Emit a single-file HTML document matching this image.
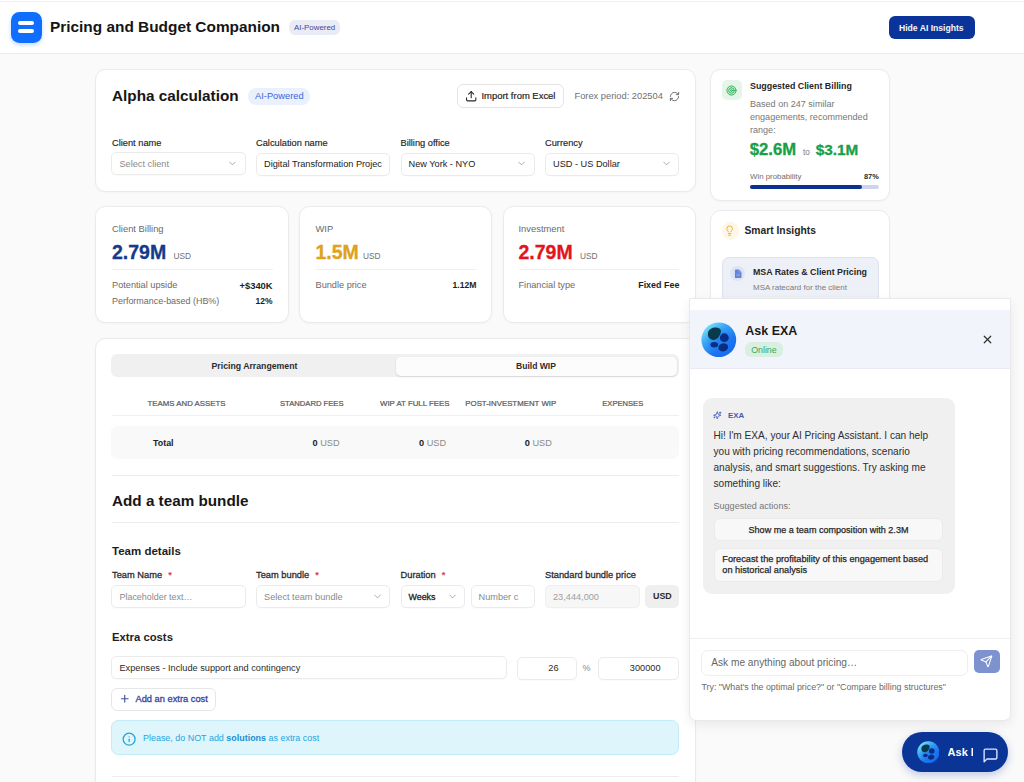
<!DOCTYPE html>
<html lang="en">
<head>
<meta charset="utf-8">
<title>Pricing and Budget Companion</title>
<style>
*{box-sizing:border-box;margin:0;padding:0}
html,body{width:1024px;height:782px;overflow:hidden}
body{background:#fafafa;font-family:"Liberation Sans",Arial,sans-serif;color:#1c1c1c;position:relative}
.a{position:absolute;white-space:nowrap}
.b{font-weight:700}
.card{position:absolute;background:#fff;border:1px solid #eaeaea;border-radius:10.5px;box-shadow:0 1px 2px rgba(0,0,0,.03)}
.hdr{position:absolute;left:0;top:0;width:1024px;height:54px;background:#fff;border-bottom:1px solid #ececec}
.topline{position:absolute;left:0;top:.5px;width:1024px;height:1.2px;background:#f1efec}
.logo{position:absolute;left:11px;top:12px;width:31px;height:30.5px;border-radius:8.5px;background:#0f6efe;box-shadow:0 2px 4px rgba(11,108,255,.25)}
.logo i{position:absolute;left:7px;width:16px;height:4px;border-radius:2px;background:#fff}
.pill{position:absolute;border-radius:6px}
.lbl{position:absolute;font-size:9.3px;color:#2a2a2a;font-weight:400;white-space:nowrap;-webkit-text-stroke:.28px #2a2a2a}
.inp{position:absolute;background:#fff;border:1px solid #ebebeb;border-radius:5px;height:23px;box-shadow:0 1px 1px rgba(0,0,0,.02)}
.inp span{position:absolute;left:7px;top:5.4px;font-size:9.2px;white-space:nowrap}
.ph{color:#8a8a8a}
.inp span.r2{top:6.1px}
.gray{color:#6e6e6e}
.th{position:absolute;top:398.6px;font-size:7.85px;font-weight:400;color:#5a5a5a;white-space:nowrap;-webkit-text-stroke:.22px #5a5a5a}
.big{font-size:19.5px;line-height:22px;-webkit-text-stroke:.3px currentColor}
.ast{color:#e5283c;margin-left:6px;-webkit-text-stroke:.2px #e5283c}
</style>
</head>
<body>
<!-- HEADER -->
<div class="hdr"></div>
<div class="topline"></div>
<div class="logo"><i style="top:9.2px"></i><i style="top:17px"></i></div>
<div class="a b" style="left:50px;top:18.4px;font-size:15.4px;line-height:18px;color:#151515">Pricing and Budget Companion</div>
<div class="pill" style="left:289px;top:20px;width:51px;height:14.5px;background:#e9ebf7"></div>
<div class="a" style="left:294px;top:22.5px;font-size:7.9px;line-height:10px;color:#3d4a96">AI-Powered</div>
<div class="pill" style="left:889px;top:16px;width:85.5px;height:22.5px;background:#0b349b;border-radius:6px"></div>
<div class="a b" style="left:899px;top:22.9px;font-size:8.6px;line-height:11px;color:#f4f6fd">Hide AI Insights</div>

<!-- MAIN CARD 1 -->
<div class="card" style="left:95px;top:69px;width:601px;height:122.5px"></div>
<div class="a b" style="left:112px;top:87px;font-size:15.3px;line-height:18px;color:#161616">Alpha calculation</div>
<div class="pill" style="left:248px;top:87.5px;width:62px;height:17px;background:#eaf1fd;border-radius:8px"></div>
<div class="a" style="left:255px;top:91px;font-size:9.3px;line-height:11px;color:#3568d4">AI-Powered</div>

<div class="pill" style="left:457px;top:84.3px;width:106.5px;height:23.5px;background:#fff;border:1px solid #e4e4e4;border-radius:6px"></div>
<svg class="a" style="left:465.1px;top:90.3px" width="12.4" height="12.4" viewBox="0 0 24 24" fill="none" stroke="#2a2a2a" stroke-width="2.1" stroke-linecap="round" stroke-linejoin="round"><path d="M21 15v4a2 2 0 0 1-2 2H5a2 2 0 0 1-2-2v-4"/><path d="M17 8l-5-5-5 5"/><path d="M12 3v12"/></svg>
<div class="a" style="left:481.5px;top:89.6px;font-size:9.45px;line-height:11px;color:#222;font-weight:400;-webkit-text-stroke:.18px #222">Import from Excel</div>
<div class="a" style="left:574.5px;top:90.5px;font-size:9.3px;line-height:11px;color:#707070">Forex period: 202504</div>
<svg class="a" style="left:668.6px;top:90.6px" width="11" height="11" viewBox="0 0 24 24" fill="none" stroke="#6a6a6a" stroke-width="2.1" stroke-linecap="round" stroke-linejoin="round"><path d="M3 12a9 9 0 0 1 9-9 9.75 9.75 0 0 1 6.74 2.74L21 8"/><path d="M21 3v5h-5"/><path d="M21 12a9 9 0 0 1-9 9 9.75 9.75 0 0 1-6.74-2.74L3 16"/><path d="M8 16H3v5"/></svg>

<div class="lbl" style="left:112px;top:138px;font-weight:400;font-size:9.28px;color:#222;-webkit-text-stroke:.15px #222">Client name</div>
<div class="lbl" style="left:256px;top:138px;font-weight:400;font-size:9.28px;color:#222;-webkit-text-stroke:.15px #222">Calculation name</div>
<div class="lbl" style="left:400.5px;top:138px;font-weight:400;font-size:9.28px;color:#222;-webkit-text-stroke:.15px #222">Billing office</div>
<div class="lbl" style="left:545px;top:138px;font-weight:400;font-size:9.28px;color:#222;-webkit-text-stroke:.15px #222">Currency</div>

<div class="inp" style="left:111.2px;top:152.2px;width:134.8px"><span class="ph" style="left:7.3px">Select client</span></div>
<div class="inp" style="left:256px;top:152.5px;width:134px"><span style="color:#222">Digital Transformation Projec</span></div>
<div class="inp" style="left:400.5px;top:152.5px;width:134px"><span style="color:#222">New York - NYO</span></div>
<div class="inp" style="left:545px;top:152.5px;width:134px"><span style="color:#222">USD - US Dollar</span></div>
<svg class="a" style="left:226.65px;top:157.8px" width="11" height="11" viewBox="0 0 24 24" fill="none" stroke="#9a9a9a" stroke-width="1.8" stroke-linecap="round" stroke-linejoin="round"><path d="m6 9 6 6 6-6"/></svg>
<svg class="a" style="left:515.65px;top:157.8px" width="11" height="11" viewBox="0 0 24 24" fill="none" stroke="#9a9a9a" stroke-width="1.8" stroke-linecap="round" stroke-linejoin="round"><path d="m6 9 6 6 6-6"/></svg>
<svg class="a" style="left:660.65px;top:157.8px" width="11" height="11" viewBox="0 0 24 24" fill="none" stroke="#9a9a9a" stroke-width="1.8" stroke-linecap="round" stroke-linejoin="round"><path d="m6 9 6 6 6-6"/></svg>

<!-- STAT CARDS -->
<div class="card" style="left:95px;top:206.3px;width:193.8px;height:117px"></div>
<div class="card" style="left:299px;top:206.3px;width:193px;height:117px"></div>
<div class="card" style="left:502.5px;top:206.3px;width:193px;height:117px"></div>

<div class="a" style="left:112px;top:222.7px;font-size:9.4px;line-height:11px;color:#6a6a6a">Client Billing</div>
<div class="a b big" style="left:112px;top:240.5px;color:#143a8c">2.79M</div>
<div class="a" style="left:173.5px;top:250.8px;font-size:8.3px;line-height:10px;color:#707070">USD</div>
<div class="a" style="left:112px;top:268.5px;width:161px;height:1px;background:#efefef"></div>
<div class="a" style="left:112px;top:280px;font-size:9.2px;line-height:11px;color:#6a6a6a">Potential upside</div>
<div class="a b" style="right:751.4px;top:280px;font-size:9.4px;line-height:11px;color:#1e1e1e">+$340K</div>
<div class="a" style="left:112px;top:295.5px;font-size:8.95px;line-height:11px;color:#6a6a6a">Performance-based (HB%)</div>
<div class="a b" style="right:751.4px;top:295.5px;font-size:8.5px;line-height:11px;color:#1e1e1e">12%</div>

<div class="a" style="left:315.5px;top:222.7px;font-size:9.4px;line-height:11px;color:#6a6a6a">WIP</div>
<div class="a b big" style="left:315.5px;top:240.5px;color:#e0a21b">1.5M</div>
<div class="a" style="left:363px;top:250.8px;font-size:8.3px;line-height:10px;color:#707070">USD</div>
<div class="a" style="left:315.5px;top:268.5px;width:160.5px;height:1px;background:#efefef"></div>
<div class="a" style="left:315.5px;top:280px;font-size:9.2px;line-height:11px;color:#6a6a6a">Bundle price</div>
<div class="a b" style="right:547.6px;top:280px;font-size:8.6px;line-height:11px;color:#1e1e1e">1.12M</div>

<div class="a" style="left:518.5px;top:222.7px;font-size:9.4px;line-height:11px;color:#6a6a6a">Investment</div>
<div class="a b big" style="left:518.5px;top:240.5px;color:#e3141c">2.79M</div>
<div class="a" style="left:580px;top:250.8px;font-size:8.3px;line-height:10px;color:#707070">USD</div>
<div class="a" style="left:518.5px;top:268.5px;width:160.5px;height:1px;background:#efefef"></div>
<div class="a" style="left:518.5px;top:280px;font-size:9.2px;line-height:11px;color:#6a6a6a">Financial type</div>
<div class="a b" style="right:344.6px;top:280px;font-size:8.95px;line-height:11px;color:#1e1e1e">Fixed Fee</div>

<!-- BIG CARD -->
<div class="card" style="left:95px;top:338px;width:601px;height:460px"></div>
<div class="pill" style="left:111.2px;top:354px;width:567.8px;height:23px;background:#f0f0f0;border-radius:6px"></div>
<div class="pill" style="left:395.5px;top:356.5px;width:281.5px;height:19px;background:#fcfcfc;border-radius:5px;box-shadow:0 1px 2px rgba(0,0,0,.12)"></div>
<div class="a b" style="left:211.5px;top:361px;font-size:8.73px;line-height:10px;color:#2c2c2c">Pricing Arrangement</div>
<div class="a b" style="left:516px;top:361px;font-size:8.57px;line-height:10px;color:#2c2c2c">Build WIP</div>

<div class="th" style="left:147.5px">TEAMS AND ASSETS</div>
<div class="th" style="left:280px;font-size:7.65px">STANDARD FEES</div>
<div class="th" style="left:380px">WIP AT FULL FEES</div>
<div class="th" style="left:465.3px">POST-INVESTMENT WIP</div>
<div class="th" style="left:602.3px;font-size:7.6px">EXPENSES</div>
<div class="a" style="left:112px;top:415px;width:567px;height:1px;background:#f0f0f0"></div>
<div class="pill" style="left:111.2px;top:426.3px;width:567.8px;height:33px;background:#f9f9f9;border-radius:6px"></div>
<div class="a b" style="left:153px;top:437.5px;font-size:8.9px;line-height:10px;color:#222">Total</div>
<div class="a" style="left:312.5px;top:437.5px;font-size:9.2px;line-height:10px;color:#8a8a8a"><b style="color:#222">0</b> USD</div>
<div class="a" style="left:419px;top:437.5px;font-size:9.2px;line-height:10px;color:#8a8a8a"><b style="color:#222">0</b> USD</div>
<div class="a" style="left:524.8px;top:437.5px;font-size:9.2px;line-height:10px;color:#8a8a8a"><b style="color:#222">0</b> USD</div>

<div class="a" style="left:112px;top:475px;width:567px;height:1px;background:#ececec"></div>
<div class="a b" style="left:112px;top:492px;font-size:15.26px;line-height:18px;color:#161616">Add a team bundle</div>
<div class="a" style="left:112px;top:522px;width:567px;height:1px;background:#ececec"></div>

<div class="a b" style="left:112px;top:545px;font-size:11.5px;line-height:13px;color:#1e1e1e">Team details</div>
<div class="lbl" style="left:112px;top:570px">Team Name<span class="ast">*</span></div>
<div class="lbl" style="left:256px;top:570px">Team bundle<span class="ast">*</span></div>
<div class="lbl" style="left:400.5px;top:570px">Duration<span class="ast">*</span></div>
<div class="lbl" style="left:545px;top:570px">Standard bundle price</div>
<div class="inp" style="left:111.2px;top:584.5px;width:134.8px"><span class="ph r2" style="font-size:8.93px;left:7.3px">Placeholder text…</span></div>
<div class="inp" style="left:256px;top:584.5px;width:134px"><span class="ph r2">Select team bundle</span></div>
<svg class="a" style="left:371.65px;top:591.2px" width="11" height="11" viewBox="0 0 24 24" fill="none" stroke="#9a9a9a" stroke-width="1.8" stroke-linecap="round" stroke-linejoin="round"><path d="m6 9 6 6 6-6"/></svg>
<div class="inp" style="left:400.5px;top:584.5px;width:64px"><span class="r2" style="color:#222;font-size:8.9px;-webkit-text-stroke:.28px #222">Weeks</span></div>
<svg class="a" style="left:446.65px;top:591.2px" width="11" height="11" viewBox="0 0 24 24" fill="none" stroke="#9a9a9a" stroke-width="1.8" stroke-linecap="round" stroke-linejoin="round"><path d="m6 9 6 6 6-6"/></svg>
<div class="inp" style="left:470.5px;top:584.5px;width:64px;overflow:hidden"><span class="ph r2">Number c</span></div>
<div class="inp" style="left:545px;top:584.5px;width:94.5px;background:#f7f7f7;border-color:#efefef"><span class="r2" style="color:#a0a0a0">23,444,000</span></div>
<div class="pill" style="left:644.5px;top:584.5px;width:34.5px;height:23px;background:#efefef;border-radius:5px"></div>
<div class="a b" style="left:653px;top:591px;font-size:8.9px;line-height:10px;color:#2a2a2a">USD</div>

<div class="a b" style="left:112px;top:630.5px;font-size:11.3px;line-height:13px;color:#1e1e1e">Extra costs</div>
<div class="inp" style="left:111.2px;top:656.3px;width:396.3px"><span style="color:#2a2a2a;left:7.3px">Expenses - Include support and contingency</span></div>
<div class="inp" style="left:516.5px;top:656.5px;width:60px"><span style="color:#2a2a2a;left:auto;right:17px">26</span></div>
<div class="a" style="left:582.5px;top:662.5px;font-size:9px;line-height:10px;color:#8a8a8a">%</div>
<div class="inp" style="left:598px;top:656.5px;width:80.5px"><span style="color:#2a2a2a;left:auto;right:17px">300000</span></div>

<div class="pill" style="left:111.2px;top:687.5px;width:105.3px;height:23px;background:#fff;border:1px solid #e6e6e6;border-radius:6px"></div>
<svg class="a" style="left:119px;top:693.1px" width="11.5" height="11.5" viewBox="0 0 24 24" fill="none" stroke="#3a4f9e" stroke-width="2.3" stroke-linecap="round" stroke-linejoin="round"><path d="M5 12h14"/><path d="M12 5v14"/></svg>
<div class="a" style="left:135.5px;top:693.5px;font-size:9.3px;line-height:10px;color:#34449a;-webkit-text-stroke:.3px #34449a">Add an extra cost</div>

<div class="pill" style="left:111.2px;top:720.3px;width:567.8px;height:35px;background:#def5fc;border:1px solid #c3ecf8;border-radius:7px"></div>
<svg class="a" style="left:121.8px;top:732.2px" width="14.3" height="14.3" viewBox="0 0 24 24" fill="none" stroke="#27a3d9" stroke-width="2.1" stroke-linecap="round" stroke-linejoin="round"><circle cx="12" cy="12" r="10"/><path d="M12 16v-4"/><path d="M12 8h.01"/></svg>
<div class="a" style="left:143px;top:732.5px;font-size:8.95px;line-height:11px;color:#26a5de">Please, do NOT add <b style="color:#1b8fd2">solutions</b> as extra cost</div>
<div class="a" style="left:112px;top:776px;width:567px;height:1px;background:#ececec"></div>

<!-- SIDEBAR -->
<div class="card" style="left:710px;top:69px;width:180px;height:131.6px"></div>
<div class="pill" style="left:722px;top:79.8px;width:20px;height:20px;background:#e6f5ea;border-radius:5px"></div>
<svg class="a" style="left:725.7px;top:84.6px" width="11" height="11" viewBox="0 0 24 24" fill="none" stroke="#2fb35a" stroke-width="2.1" stroke-linecap="round" stroke-linejoin="round"><circle cx="12" cy="12" r="10" fill="#c9ecd4"/><circle cx="12" cy="12" r="6"/><circle cx="12" cy="12" r="2"/></svg>
<div class="a b" style="left:750px;top:81.3px;font-size:8.87px;line-height:10px;color:#262626">Suggested Client Billing</div>
<div class="a" style="left:750px;top:97.5px;font-size:9.05px;line-height:13px;color:#777;white-space:normal;width:125px">Based on 247 similar engagements, recommended range:</div>
<div class="a" style="left:749.7px;top:140px;height:20px;display:flex;align-items:baseline;line-height:20px;color:#18a048;-webkit-text-stroke:.3px #18a048"><b style="font-size:16.7px">$2.6M</b><span style="font-size:8.2px;color:#7a7a7a;margin:0 6px 0 6.8px;font-weight:400;-webkit-text-stroke:0">to</span><b style="font-size:15.3px">$3.1M</b></div>
<div class="a" style="left:750px;top:171.5px;font-size:7.85px;line-height:9px;color:#6e6e6e">Win probability</div>
<div class="a b" style="left:864px;top:171.5px;font-size:7.4px;line-height:9px;color:#2a2a2a">87%</div>
<div class="pill" style="left:749.7px;top:184.7px;width:129px;height:4.7px;background:#cdd4ee;border-radius:3px"></div>
<div class="pill" style="left:749.7px;top:184.7px;width:112.6px;height:4.7px;background:#0b3190;border-radius:3px"></div>

<div class="card" style="left:710px;top:210px;width:180px;height:120px"></div>
<div class="pill" style="left:721.5px;top:222px;width:17.5px;height:17.5px;background:#fdf7e7;border-radius:50%"></div>
<svg class="a" style="left:724.1px;top:224.9px" width="11.2" height="11.2" viewBox="0 0 24 24" fill="none" stroke="#e5b226" stroke-width="2.1" stroke-linecap="round" stroke-linejoin="round"><path d="M15 14c.2-1 .7-1.7 1.5-2.5 1-.9 1.5-2.2 1.5-3.5A6 6 0 0 0 6 8c0 1 .2 2.2 1.5 3.5.7.7 1.3 1.5 1.5 2.5"/><path d="M9 18h6"/><path d="M10 22h4"/></svg>
<div class="a b" style="left:744.5px;top:224.5px;font-size:10.29px;line-height:12px;color:#262626">Smart Insights</div>
<div class="pill" style="left:721.5px;top:257.4px;width:157.5px;height:60px;background:#eef0f8;border:1px solid #dde1f0;border-radius:7px"></div>
<div class="pill" style="left:730px;top:265.8px;width:15.3px;height:15.3px;background:#dde4f5;border-radius:50%"></div>
<svg class="a" style="left:733.6px;top:269px" width="8.4" height="9.4" viewBox="0 0 7 8.6"><path d="M.5 1.2c0-.4.3-.7.7-.7h3l2.3 2.3v4.9c0 .4-.3.7-.7.7H1.2c-.4 0-.7-.3-.7-.7z" fill="#6283d6"/><path d="M4.2.5v2.3h2.3" fill="none" stroke="#a9bbe9" stroke-width=".5"/><path d="M1.9 4.7h3.2M1.9 6.2h3.2" stroke="#a9bbe9" stroke-width=".55"/></svg>
<div class="a b" style="left:753px;top:266.8px;font-size:8.83px;line-height:10px;color:#262626">MSA Rates &amp; Client Pricing</div>
<div class="a" style="left:753px;top:283px;font-size:7.98px;line-height:10px;color:#7b7b7b">MSA ratecard for the client</div>

<!-- CHAT -->
<div class="a" style="left:688.9px;top:298px;width:322.1px;height:423.3px;background:#fff;border:1px solid #e9e9e9;border-radius:2px 2px 7px 7px;box-shadow:0 4px 12px rgba(0,0,0,.07)"></div>
<div class="a" style="left:689.9px;top:309.5px;width:320.1px;height:59px;background:#f2f4fb;border-bottom:1px solid #e9ebf3"></div>
<svg class="a" style="left:701.4px;top:321.6px" width="35.6" height="35.6" viewBox="0 0 36 36">
<defs><linearGradient id="avl" x1="0.1" y1="0.05" x2="0.85" y2="0.95"><stop offset="0" stop-color="#86ecfb"/><stop offset="0.35" stop-color="#3ba6f5"/><stop offset="0.7" stop-color="#1a74f0"/><stop offset="1" stop-color="#1763ee"/></linearGradient><radialGradient id="avr" cx="0.56" cy="0.56" r="0.42"><stop offset="0" stop-color="#1f7df0" stop-opacity=".9"/><stop offset="1" stop-color="#1f7df0" stop-opacity="0"/></radialGradient></defs>
<circle cx="18" cy="18" r="17.6" fill="url(#avl)"/><circle cx="18" cy="18" r="17.6" fill="url(#avr)"/>
<g id="blobs">
<path d="M7 11.2c.5-3.9 5-6 9.4-5.5 3.5.4 4.4 2.9 3.4 5.6-1 2.9-2.6 5.6-6 6.6-3.6 1-7.4-1.7-6.8-6.7z" fill="#093a4b"/>
<ellipse cx="23.6" cy="15.9" rx="4.5" ry="4.4" fill="#0a2e86"/>
<ellipse cx="13.4" cy="23" rx="3.9" ry="2.8" fill="#0a2e86"/>
<ellipse cx="22.5" cy="25.7" rx="5" ry="4" transform="rotate(-15 22.5 25.7)" fill="#0a2e7e"/>
</g>
</svg>
<div class="a b" style="left:745.3px;top:324px;font-size:12.47px;line-height:15px;color:#1a1a1a">Ask EXA</div>
<div class="pill" style="left:745px;top:342.3px;width:38px;height:15px;background:#d9efe0;border-radius:6px"></div>
<div class="a" style="left:751.2px;top:345px;font-size:8.82px;line-height:10px;color:#38a85a">Online</div>
<svg class="a" style="left:980.6px;top:333.1px" width="13" height="13" viewBox="0 0 24 24" fill="none" stroke="#2e2e2e" stroke-width="2.2" stroke-linecap="round" stroke-linejoin="round"><path d="M18 6 6 18"/><path d="m6 6 12 12"/></svg>

<div class="pill" style="left:702.5px;top:398px;width:252px;height:195.5px;background:#f0f0f0;border-radius:9px"></div>
<svg class="a" style="left:713.2px;top:410.8px" width="8.6" height="8.6" viewBox="0 0 24 24" fill="none" stroke="#4664c2" stroke-width="2.6" stroke-linecap="round" stroke-linejoin="round"><path d="M9.937 15.5A2 2 0 0 0 8.5 14.063l-6.135-1.582a.5.5 0 0 1 0-.962L8.5 9.936A2 2 0 0 0 9.937 8.5l1.582-6.135a.5.5 0 0 1 .963 0L14.063 8.5A2 2 0 0 0 15.5 9.937l6.135 1.581a.5.5 0 0 1 0 .964L15.5 14.063a2 2 0 0 0-1.437 1.437l-1.582 6.135a.5.5 0 0 1-.963 0z"/><path d="M20 3v4M22 5h-4M4 17v2M5 18H3"/></svg>
<div class="a b" style="left:728px;top:410.5px;font-size:7.9px;line-height:9px;color:#3d5bb8">EXA</div>
<div class="a" style="left:713.5px;top:428px;width:222px;white-space:normal;font-size:10.1px;line-height:16.1px;color:#2e2e2e">Hi! I'm EXA, your AI Pricing Assistant. I can help you with pricing recommendations, scenario analysis, and smart suggestions. Try asking me something like:</div>
<div class="a" style="left:713.5px;top:502px;font-size:9.05px;line-height:9px;color:#777">Suggested actions:</div>
<div class="pill" style="left:714px;top:518.4px;width:229px;height:22.8px;background:#f8f8f8;border:1px solid #ebebeb;border-radius:6px"></div>
<div class="a" style="left:714px;top:525.5px;width:229px;text-align:center;font-size:9.05px;line-height:9px;color:#262626;-webkit-text-stroke:.25px #262626">Show me a team composition with 2.3M</div>
<div class="pill" style="left:714px;top:548.3px;width:229px;height:33.5px;background:#f8f8f8;border:1px solid #ebebeb;border-radius:6px"></div>
<div class="a" style="left:722.3px;top:554px;width:215px;white-space:normal;font-size:9.2px;line-height:11px;color:#262626;-webkit-text-stroke:.25px #262626">Forecast the profitability of this engagement based on historical analysis</div>

<div class="a" style="left:689.9px;top:637.5px;width:320.1px;height:1px;background:#f0f0f0"></div>
<div class="pill" style="left:701.3px;top:649.7px;width:266.5px;height:26.3px;background:#fff;border:1px solid #eeeeee;border-radius:7px"></div>
<div class="a" style="left:711.3px;top:657px;font-size:10.14px;line-height:12px;color:#666">Ask me anything about pricing…</div>
<div class="pill" style="left:974px;top:649.7px;width:25.7px;height:23.1px;background:#7d92cf;border-radius:5px"></div>
<svg class="a" style="left:980.4px;top:654.7px" width="12.8" height="12.8" viewBox="0 0 24 24" fill="none" stroke="#fff" stroke-width="2" stroke-linecap="round" stroke-linejoin="round"><path d="M14.536 21.686a.5.5 0 0 0 .937-.024l6.5-19a.496.496 0 0 0-.635-.635l-19 6.5a.5.5 0 0 0-.024.937l7.93 3.18a2 2 0 0 1 1.112 1.11z"/><path d="m21.854 2.147-10.94 10.939"/></svg>
<div class="a" style="left:701.5px;top:682.5px;font-size:8.86px;line-height:9px;color:#6a6a6a">Try: "What's the optimal price?" or "Compare billing structures"</div>

<div class="a" style="left:901.8px;top:732px;width:106.7px;height:39.7px;background:#0a3596;border-radius:20px;box-shadow:0 3px 8px rgba(10,53,150,.25)"></div>
<svg class="a" style="left:916.9px;top:740.7px" width="22.6" height="22.6" viewBox="0 0 36 36">
<circle cx="18" cy="18" r="17.6" fill="url(#avl)"/><circle cx="18" cy="18" r="17.6" fill="url(#avr)"/>
<use href="#blobs"/>
</svg>
<div class="a b" style="left:947.6px;top:746px;width:25.8px;overflow:hidden;font-size:11px;line-height:13px;color:#fff">Ask EXA</div>
<svg class="a" style="left:982.4px;top:746.7px" width="17" height="17" viewBox="0 0 24 24" fill="none" stroke="#dfe8ff" stroke-width="1.9" stroke-linecap="round" stroke-linejoin="round"><path d="M21 15a2 2 0 0 1-2 2H7l-4 4V5a2 2 0 0 1 2-2h14a2 2 0 0 1 2 2z"/></svg>
</body>
</html>
